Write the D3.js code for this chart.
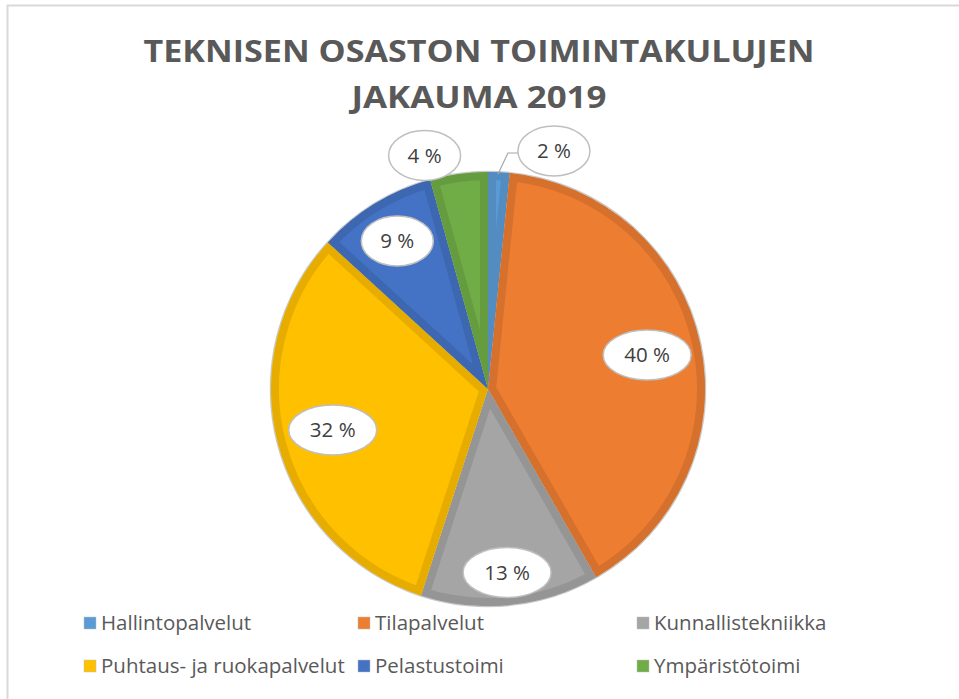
<!DOCTYPE html>
<html>
<head>
<meta charset="utf-8">
<script src="https://cdn.jsdelivr.net/npm/d3@7"></script>
<style>
  body { margin: 0; background: #fff; }
  svg { display: block; }
</style>
</head>
<body>
<script>
const titleLines = ['TEKNISEN OSASTON TOIMINTAKULUJEN', 'JAKAUMA 2019']
const categories = ['Hallintopalvelut', 'Tilapalvelut', 'Kunnallistekniikka', 'Puhtaus- ja ruokapalvelut', 'Pelastustoimi', 'Ympäristötoimi']
const shares = [1.6, 40.1, 13.3, 31.8, 8.9, 4.3]
const colors = ['#5B9BD5', '#ED7D31', '#A5A5A5', '#FFC000', '#4472C4', '#70AD47']
// where each label sits: fraction of the radius, and angle nudge (rad)
const labelRadius = [1.138, 0.75, 0.85, 0.74, 0.8, 1.115]
const labelNudge = [0.22, 0, 0, 0, 0, -0.13]

const width = 959, height = 699
const cx = 488, cy = 389, r = 217

const svg = d3.select('body').append('svg')
    .attr('width', width)
    .attr('height', height)

// chart frame (right and bottom fall outside the picture)
svg.append('rect')
    .attr('x', 7.5).attr('y', 5.5)
    .attr('width', 1000).attr('height', 1000)
    .attr('fill', 'none')
    .attr('stroke', '#d9d9d9')
    .attr('stroke-width', 2)

svg.selectAll('.title')
    .data(titleLines)
    .enter()
    .append('text')
    .attr('class', 'title')
    .attr('x', 479)
    .attr('y', function(d, i) { return 62 + i * 46 })
    .attr('text-anchor', 'middle')
    .attr('textLength', function(d, i) { return i == 0 ? 671 : 255 })
    .attr('lengthAdjust', 'spacingAndGlyphs')
    .style('font-family', 'Open Sans')
    .style('font-weight', 'bold')
    .style('font-size', '30px')
    .style('fill', '#595959')
    .text(function(d) { return d })

const pie = d3.pie().sort(null).value(function(d) { return d })
const arcs = pie(shares)
const arc = d3.arc().innerRadius(0).outerRadius(r)

const g = svg.append('g').attr('transform', 'translate(' + cx + ',' + cy + ')')

// faint outer edge
g.append('circle').attr('r', r + 0.5)
    .attr('fill', 'none').attr('stroke', '#c8c8c8').attr('stroke-width', 1.5)

const defs = svg.append('defs')
arcs.forEach(function(a, i) {
    defs.append('clipPath').attr('id', 'clip' + i)
        .append('path').attr('d', arc(a))
})

function darker(c) {
    const k = d3.rgb(c)
    return d3.rgb(k.r * 0.9, k.g * 0.9, k.b * 0.9).toString()
}

g.selectAll('.slice')
    .data(arcs)
    .enter()
    .append('path')
    .attr('class', 'slice')
    .attr('d', arc)
    .attr('fill', function(d, i) { return colors[i] })
    .attr('stroke', function(d, i) { return darker(colors[i]) })
    .attr('stroke-width', 16)
    .attr('stroke-linejoin', 'miter')
    .attr('clip-path', function(d, i) { return 'url(#clip' + i + ')' })

function labelPos(d, i) {
    const m = (d.startAngle + d.endAngle) / 2 + labelNudge[i]
    const rr = labelRadius[i] * r
    return [rr * Math.sin(m), -rr * Math.cos(m)]
}

function ellipseRx(d) { return Math.round(d.data) < 10 ? 36 : 44 }

// leader line for the smallest slice
const a0 = arcs[0]
const mid0 = (a0.startAngle + a0.endAngle) / 2
const p0 = labelPos(a0, 0)
g.append('polyline')
    .attr('points', [
        [r * Math.sin(mid0) - 1, -r * Math.cos(mid0) + 2],
        [p0[0] - ellipseRx(a0) - 10, p0[1] + 2],
        [p0[0] - ellipseRx(a0), p0[1] + 2]
    ].join(' '))
    .attr('fill', 'none')
    .attr('stroke', '#a6a6a6')
    .attr('stroke-width', 1.2)

const labels = g.selectAll('.lbl')
    .data(arcs)
    .enter()
    .append('g')
    .attr('class', 'lbl')
    .attr('transform', function(d, i) { return 'translate(' + labelPos(d, i) + ')' })

labels.append('ellipse')
    .attr('rx', ellipseRx)
    .attr('ry', 25)
    .attr('fill', '#fff')
    .attr('stroke', '#bfbfbf')
    .attr('stroke-width', 1.5)

labels.append('text')
    .attr('text-anchor', 'middle')
    .attr('dy', '0.36em')
    .style('font-family', 'Open Sans')
    .style('font-size', '20.5px')
    .style('fill', '#404040')
    .text(function(d) { return Math.round(d.data) + ' %' })

// legend
const legX = [84, 358, 637]
const legY = [623, 666]
const leg = svg.selectAll('.leg')
    .data(categories)
    .enter()
    .append('g')
    .attr('class', 'leg')
    .attr('transform', function(d, i) {
        return 'translate(' + legX[i % 3] + ',' + legY[Math.floor(i / 3)] + ')'
    })

leg.append('rect')
    .attr('x', 0).attr('y', -6)
    .attr('width', 12).attr('height', 12)
    .attr('fill', function(d, i) { return colors[i] })
    .attr('stroke', '#bfbfbf')
    .attr('stroke-width', 0.5)

leg.append('text')
    .attr('x', 17)
    .attr('dy', '0.36em')
    .style('font-family', 'Open Sans')
    .style('font-size', '20.5px')
    .style('fill', '#595959')
    .text(function(d) { return d })
</script>
</body>
</html>
